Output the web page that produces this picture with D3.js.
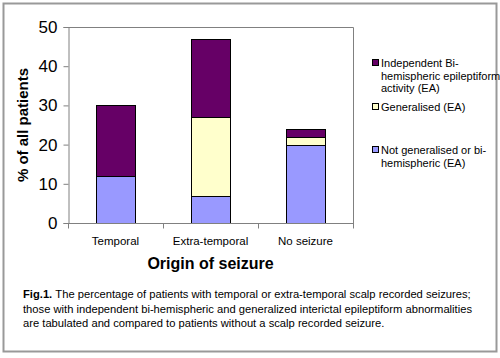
<!DOCTYPE html>
<html>
<head>
<meta charset="utf-8">
<script src="https://cdn.jsdelivr.net/npm/d3@7"></script>
<style>
body { margin: 0; background: #fff; }
svg { display: block; font-family: "Liberation Sans", Arial, sans-serif; }
</style>
</head>
<body>
<svg id="graph" width="500" height="358"></svg>
<script>
var categories = ["Temporal", "Extra-temporal", "No seizure"];
var notGeneralised = [12, 7, 20];
var generalised = [0, 20, 2];
var biHemispheric = [18, 20, 2];
var seriesKeys = ["notGen", "gen", "bi"];
var seriesColors = ["#9999ff", "#ffffcc", "#660066"];
var legendLines = [
    ["Independent Bi-", "hemispheric epileptiform", "activity (EA)"],
    ["Generalised (EA)"],
    ["Not generalised or bi-", "hemispheric (EA)"]
];
var legendColors = ["#660066", "#ffffcc", "#9999ff"];
var yTicks = [0, 10, 20, 30, 40, 50];
var captionLines = [
    "The percentage of patients with temporal or extra-temporal scalp recorded seizures;",
    "those with independent bi-hemispheric and generalized interictal epileptiform abnormalities",
    "are tabulated and compared to patients without a scalp recorded seizure."
];

var svg = d3.select("#graph");

// outer frame
svg.append("rect").attr("x", 3.5).attr("y", 3.5).attr("width", 493).attr("height", 348)
    .attr("fill", "#fff").attr("stroke", "#999").attr("stroke-width", 2);

var plotL = 68, plotR = 353, plotT = 27, plotB = 223;

var x = d3.scaleBand().domain(categories).range([plotL, plotR]).paddingInner(0.59).paddingOuter(0.295);
var y = d3.scaleLinear().domain([0, 50]).range([plotB, plotT]);

var data = categories.map(function(c, i) {
    return {cat: c, notGen: notGeneralised[i], gen: generalised[i], bi: biHemispheric[i]};
});
var stacked = d3.stack().keys(seriesKeys)(data);

// plot area border
svg.append("path")
    .attr("d", "M" + plotL + "," + (plotT + 0.5) + "H" + (plotR + 0.5) + "V" + plotB)
    .attr("fill", "none").attr("stroke", "#808080");

svg.append("g").selectAll("g")
    .data(stacked)
    .enter().append("g")
    .attr("fill", function(d, i) { return seriesColors[i]; })
    .selectAll("rect")
    .data(function(d) { return d.filter(function(p) { return p[1] > p[0]; }); })
    .enter().append("rect")
    .attr("x", function(d) { return Math.round(x(d.data.cat)) + 0.5; })
    .attr("y", function(d) { return Math.round(y(d[1])) + 0.5; })
    .attr("width", Math.round(x.bandwidth()))
    .attr("height", function(d) { return Math.round(y(d[0])) - Math.round(y(d[1])); })
    .attr("stroke", "#000").attr("stroke-width", 1);

// y axis
var yAxis = svg.append("g").attr("transform", "translate(" + (plotL + 0.5) + ",0)")
    .call(d3.axisLeft(y).tickValues(yTicks).tickSize(5).tickPadding(6));
yAxis.select(".domain").attr("stroke", "#808080");
yAxis.selectAll(".tick line").attr("stroke", "#808080");
yAxis.selectAll("text").attr("font-size", 17).attr("fill", "#000")
    .attr("font-family", "Liberation Sans, Arial, sans-serif");

// x axis with boundary ticks
var xAxis = svg.append("g").attr("transform", "translate(0," + (plotB + 0.5) + ")");
xAxis.append("line").attr("x1", plotL).attr("x2", plotR + 1).attr("stroke", "#808080");
var bounds = categories.map(function(c) { return x(c) - x.step() * x.paddingInner() / 2; });
bounds.push(plotR);
xAxis.selectAll(".btick").data(bounds).enter().append("line")
    .attr("x1", function(d) { return Math.round(d) + 0.5; })
    .attr("x2", function(d) { return Math.round(d) + 0.5; })
    .attr("y1", 0).attr("y2", 5).attr("stroke", "#808080");
xAxis.selectAll(".lab").data(categories).enter().append("text")
    .attr("x", function(d) { return x(d) + x.bandwidth() / 2; })
    .attr("y", 21).attr("text-anchor", "middle").attr("font-size", 11.5).text(function(d) { return d; });

// axis titles
svg.append("text").attr("x", (plotL + plotR) / 2).attr("y", 269).attr("text-anchor", "middle")
    .attr("font-size", 16).attr("font-weight", "bold").text("Origin of seizure");
svg.append("text").attr("transform", "translate(28," + ((plotT + plotB) / 2) + ") rotate(-90)")
    .attr("text-anchor", "middle").attr("font-size", 15).attr("font-weight", "bold")
    .text("% of all patients");

// legend
var legendY = [63, 107, 150];
var lg = svg.append("g").selectAll("g").data(legendLines).enter().append("g")
    .attr("transform", function(d, i) { return "translate(372," + legendY[i] + ")"; });
lg.append("rect").attr("x", 0.5).attr("y", -3.5).attr("width", 6).attr("height", 6)
    .attr("fill", function(d, i) { return legendColors[i]; }).attr("stroke", "#000");
lg.append("text").attr("x", 9).attr("y", 4).attr("font-size", 11)
    .selectAll("tspan").data(function(d) { return d; }).enter().append("tspan")
    .attr("x", 9).attr("dy", function(d, i) { return i ? 12.5 : 0; })
    .text(function(d) { return d; });

// caption
var cap = svg.append("text").attr("font-size", 11.2).attr("fill", "#000");
captionLines.forEach(function(line, i) {
    var t = cap.append("tspan").attr("x", 23).attr("y", 298 + i * 14.5);
    if (i === 0) {
        t.append("tspan").attr("font-weight", "bold").text("Fig.1. ");
        t.append("tspan").text(line);
    } else {
        t.text(line);
    }
});
</script>
</body>
</html>
